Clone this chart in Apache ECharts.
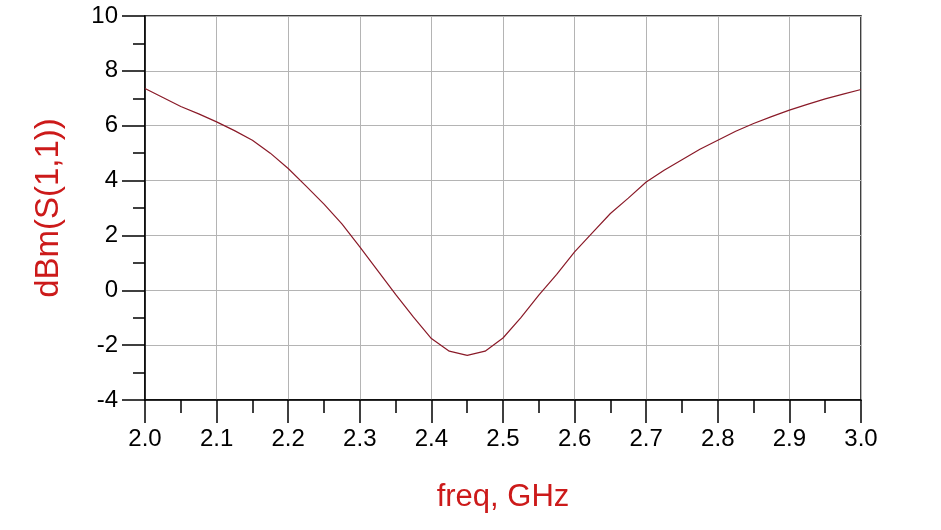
<!DOCTYPE html>
<html>
<head>
<meta charset="utf-8">
<title>dBm(S(1,1)) vs freq</title>
<script src="https://cdn.jsdelivr.net/npm/echarts@6/dist/echarts.min.js"></script>
<style>
  html, body { margin: 0; padding: 0; background: #fff; }
  #chart { width: 941px; height: 530px; }
</style>
</head>
<body>
<div id="chart"></div>
<script>
// frequency points (GHz) and measured response (dBm)
const freq = [
  2.000, 2.025, 2.050, 2.075, 2.100, 2.125, 2.150, 2.175, 2.200, 2.225,
  2.250, 2.275, 2.300, 2.325, 2.350, 2.375, 2.400, 2.425, 2.450, 2.475,
  2.500, 2.525, 2.550, 2.575, 2.600, 2.625, 2.650, 2.675, 2.700, 2.725,
  2.750, 2.775, 2.800, 2.825, 2.850, 2.875, 2.900, 2.925, 2.950, 2.975, 3.000
];
const s11 = [
  7.36, 7.03, 6.70, 6.43, 6.14, 5.82, 5.47, 5.00, 4.44, 3.80,
  3.14, 2.42, 1.58, 0.72, -0.15, -0.98, -1.76, -2.22, -2.37, -2.22,
  -1.74, -1.00, -0.18, 0.58, 1.40, 2.10, 2.80, 3.36, 3.95, 4.38,
  4.76, 5.14, 5.47, 5.80, 6.08, 6.33, 6.57, 6.78, 6.98, 7.15, 7.32
];

const chart = echarts.init(document.getElementById('chart'));

const axisFont = 'Liberation Sans, Arial, sans-serif';

chart.setOption({
  animation: false,
  textStyle: { fontFamily: axisFont },
  grid: {
    left: 145,
    right: 80,
    top: 16,
    bottom: 130,
    show: true,
    borderColor: '#000',
    borderWidth: 1.5,
    backgroundColor: 'transparent'
  },
  xAxis: {
    type: 'value',
    min: 2,
    max: 3,
    interval: 0.1,
    name: 'freq, GHz',
    nameLocation: 'middle',
    nameGap: 82,
    nameTextStyle: { color: '#cc1a1a', fontSize: 31, fontFamily: axisFont },
    axisLine: { show: true, onZero: false, lineStyle: { color: '#000', width: 1.5 } },
    axisTick: { show: true, inside: false, length: 23, lineStyle: { color: '#000', width: 1.5 } },
    minorTick: { show: true, splitNumber: 2, length: 13, lineStyle: { color: '#000', width: 1.5 } },
    axisLabel: {
      color: '#000',
      fontSize: 24,
      margin: 27,
      formatter: v => v.toFixed(1)
    },
    splitLine: { show: true, lineStyle: { color: '#b4b4b4', width: 1 } }
  },
  yAxis: {
    type: 'value',
    min: -4,
    max: 10,
    interval: 2,
    name: 'dBm(S(1,1))',
    nameLocation: 'middle',
    nameGap: 80,
    nameTextStyle: { color: '#cc1a1a', fontSize: 33, fontFamily: axisFont },
    axisLine: { show: true, onZero: false, lineStyle: { color: '#000', width: 1.5 } },
    axisTick: { show: true, inside: false, length: 23, lineStyle: { color: '#000', width: 1.5 } },
    minorTick: { show: true, splitNumber: 2, length: 12, lineStyle: { color: '#000', width: 1.5 } },
    axisLabel: { color: '#000', fontSize: 24, margin: 27 },
    splitLine: { show: true, lineStyle: { color: '#b4b4b4', width: 1 } }
  },
  series: [
    {
      type: 'line',
      data: freq.map((f, i) => [f, s11[i]]),
      showSymbol: false,
      smooth: false,
      lineStyle: { color: '#8a1a28', width: 1.2 }
    }
  ]
});
</script>
</body>
</html>
